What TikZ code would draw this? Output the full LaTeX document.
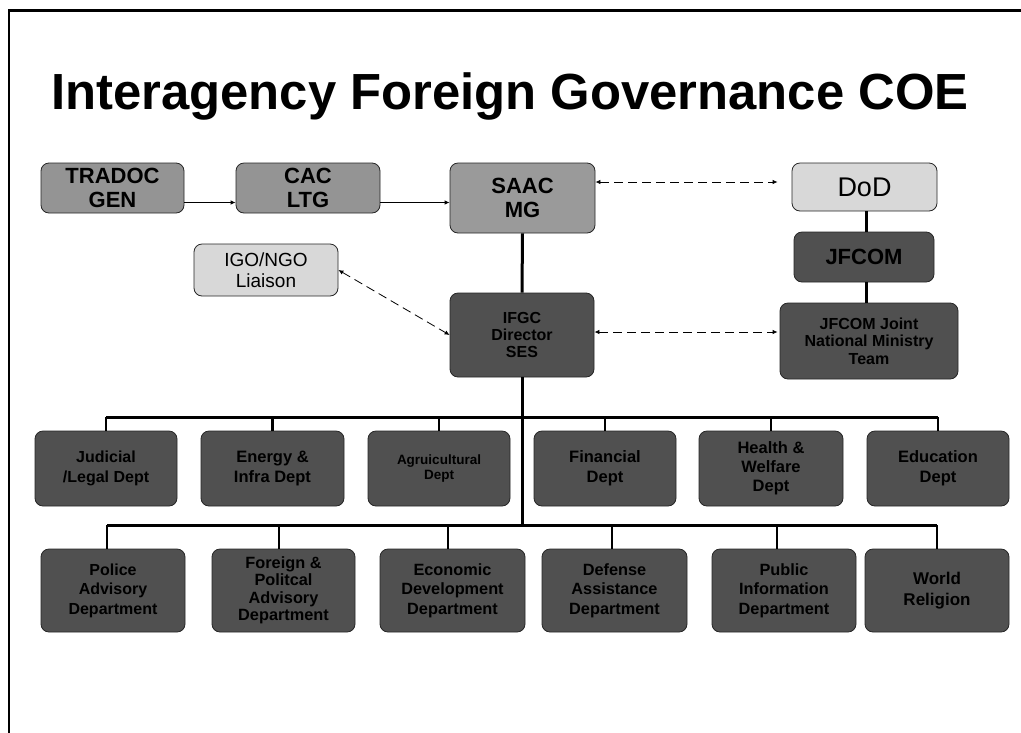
\documentclass[tikz,border=0pt]{standalone}
\usepackage{fontspec}
\setmainfont{Liberation Sans}
\usetikzlibrary{arrows.meta}
\definecolor{darkfill}{HTML}{505050}
\definecolor{midfill}{HTML}{949494}
\definecolor{lightfill}{HTML}{D8D8D8}
\begin{document}
\begin{tikzpicture}[x=1pt,y=-1pt,
  box/.style={draw=black!85, line width=0.8pt, rounded corners=8pt, align=center, inner sep=0pt, text=black},
  darkbox/.style={box, fill=darkfill},
  midbox/.style={box, fill=midfill},
  lightbox/.style={box, fill=lightfill},
  fs/.style 2 args={font=\fontsize{#1}{#2}\selectfont\bfseries},
  fn/.style 2 args={font=\fontsize{#1}{#2}\selectfont},
  thin arrow/.style={line width=0.8pt, {Latex[length=5pt,width=4.5pt]}-{Latex[length=5pt,width=4.5pt]}},
  one arrow/.style={line width=0.8pt, -{Latex[length=5pt,width=4.5pt]}},
  dash arrow/.style={thin arrow, dash pattern=on 9pt off 5pt},
  trunk/.style={line width=3pt},
  drop/.style={line width=2.6pt}
]
\useasboundingbox (0,0) rectangle (1021,732);
\fill[white] (0,0) rectangle (1021,732);
% frame
\draw[line width=2.2pt] (9,733) -- (9,10.5) -- (1022,10.5);

% title
\node[anchor=base west, inner sep=0pt, font=\fontsize{50.8}{60}\selectfont\bfseries] (title) at (51,109) {Interagency Foreign Governance COE};

% upper nodes
\node[midbox, fs={22}{24.5}, minimum width=143pt, minimum height=50pt] (tradoc) at (112.5,188) {TRADOC\\GEN};
\node[midbox, fs={22}{24.5}, minimum width=144pt, minimum height=50pt] (cac) at (308,188) {CAC\\LTG};
\node[midbox, fill=midfill!94!white, fs={22}{24.5}, minimum width=145pt, minimum height=70pt] (saac) at (522.5,198) {SAAC\\MG};
\node[lightbox, fn={27}{30}, minimum width=145pt, minimum height=48pt] (dod) at (864.5,187) {DoD};
\node[darkbox, fs={22}{24}, minimum width=140pt, minimum height=50pt] (jfcom) at (864,257) {JFCOM};
\node[darkbox, fs={16}{17.5}, minimum width=178pt, minimum height=76pt] (jnmt) at (869,341) {JFCOM Joint\\National Ministry\\Team};
\node[darkbox, fs={16}{17}, minimum width=144pt, minimum height=84pt] (ifgc) at (522,335) {IFGC\\Director\\SES};
\node[lightbox, fn={19}{21.5}, minimum width=144pt, minimum height=52pt] (igo) at (266,270) {IGO/NGO\\Liaison};

% top department row
\node[darkbox, fs={16}{20}, minimum width=142pt, minimum height=75pt] (jud) at (106,468.5) {Judicial\\/Legal Dept};
\node[darkbox, fs={16.5}{20}, minimum width=143pt, minimum height=75pt] (ene) at (272.5,468.5) {Energy \&\\Infra Dept};
\node[darkbox, fs={13.5}{15.5}, minimum width=142pt, minimum height=75pt] (agr) at (439,468.5) {Agruicultural\\Dept};
\node[darkbox, fs={16.5}{20}, minimum width=142pt, minimum height=75pt] (fin) at (605,468.5) {Financial\\Dept};
\node[darkbox, fs={16.5}{19}, minimum width=144pt, minimum height=75pt] (hea) at (771,468.5) {Health \&\\Welfare\\Dept};
\node[darkbox, fs={16.5}{20}, minimum width=142pt, minimum height=75pt] (edu) at (938,468.5) {Education\\Dept};

% bottom department row
\node[darkbox, fs={16}{19.5}, minimum width=144pt, minimum height=83pt] (pol) at (113,590.5) {Police\\Advisory\\Department};
\node[darkbox, fs={16.3}{17.5}, minimum width=143pt, minimum height=83pt] (for) at (283.5,590.5) {Foreign \&\\Politcal\\Advisory\\Department};
\node[darkbox, fs={16.3}{19.5}, minimum width=145pt, minimum height=83pt] (eco) at (452.5,590.5) {Economic\\Development\\Department};
\node[darkbox, fs={16.3}{19.5}, minimum width=145pt, minimum height=83pt] (def) at (614.5,590.5) {Defense\\Assistance\\Department};
\node[darkbox, fs={16.3}{19.5}, minimum width=144pt, minimum height=83pt] (pub) at (784,590.5) {Public\\Information\\Department};
\node[darkbox, fs={17}{21}, minimum width=144pt, minimum height=83pt] (wor) at (937,590.5) {World\\Religion};

% helper coordinates
\coordinate (arrowrow) at (0,202.5);
\coordinate (topbus) at (0,417);
\coordinate (botbus) at (522,525);
\coordinate (b1) at (107,525);
\coordinate (b2) at (279,525);
\coordinate (b3) at (448,525);
\coordinate (b4) at (612,525);
\coordinate (b5) at (777,525);
\coordinate (b6) at (937,525);

% arrows
\draw[one arrow] (tradoc.east |- arrowrow) -- (cac.west |- arrowrow);
\draw[one arrow] (cac.east |- arrowrow) -- (saac.west |- arrowrow);
\draw[dash arrow, shorten >=14pt] (saac.east |- dod.west) ++(0,-5) coordinate (s1) (s1) -- (dod.west |- s1);
\draw[dash arrow, shorten >=2pt] ([yshift=3pt]ifgc.east) -- ([yshift=3pt]jnmt.west |- ifgc.east);
\draw[dash arrow] (igo.east) -- (ifgc.west);

% solid connections
\draw[trunk] (saac.south) -- (ifgc.north);
\draw[trunk] ([xshift=1.5pt]dod.south) -- ([xshift=1.5pt]dod.south |- jfcom.north);
\draw[trunk] ([xshift=2pt]jfcom.south) -- ([xshift=2pt]jfcom.south |- jnmt.north);
\draw[trunk] (ifgc.south) -- (botbus);

% top bus
\draw[trunk] (jud.north |- topbus) -- (edu.north |- topbus);
\foreach \n in {jud,ene,agr,fin,hea,edu}{
  \draw[drop] (\n.north |- topbus) -- (\n.north);
}
% bottom bus
\draw[trunk] (b1) -- (b6);
\draw[drop] (b1) -- (b1 |- pol.north);
\draw[drop] (b2) -- (b2 |- for.north);
\draw[drop] (b3) -- (b3 |- eco.north);
\draw[drop] (b4) -- (b4 |- def.north);
\draw[drop] (b5) -- (b5 |- pub.north);
\draw[drop] (b6) -- (b6 |- wor.north);
\end{tikzpicture}
\end{document}
